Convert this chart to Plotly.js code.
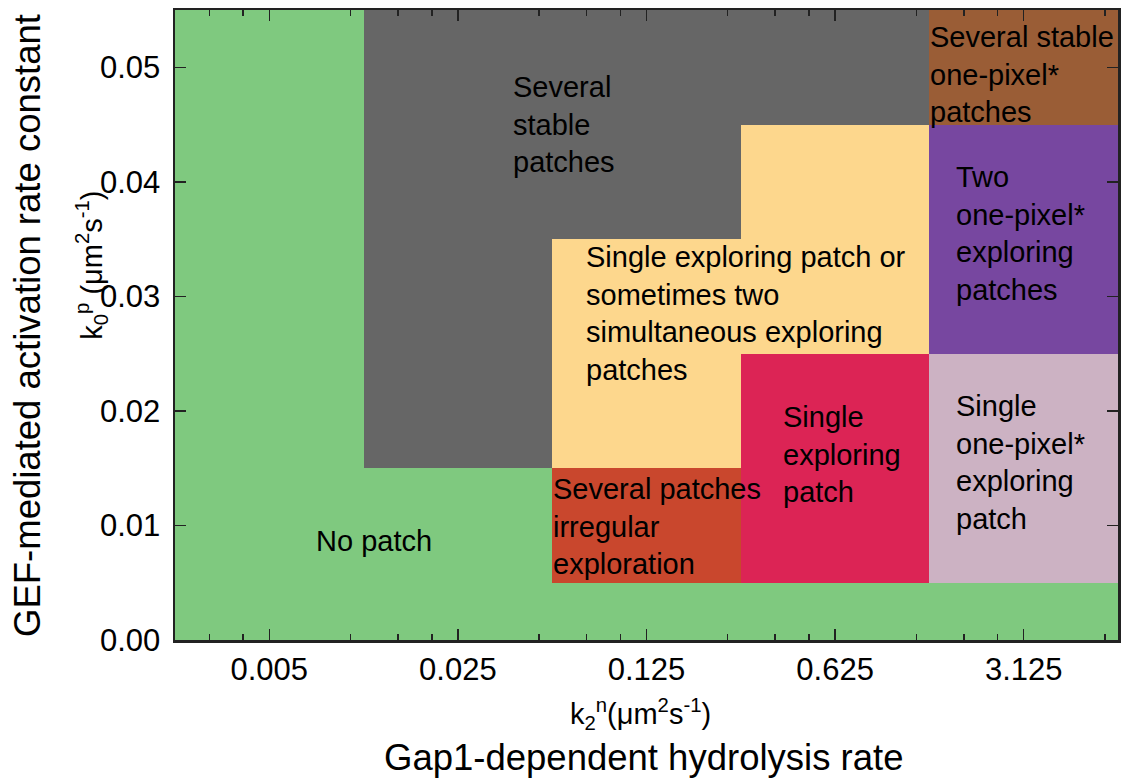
<!DOCTYPE html>
<html>
<head>
<meta charset="utf-8">
<script src="https://cdn.plot.ly/plotly-3.0.1.min.js"></script>
<style>html,body{margin:0;padding:0;background:#fff;}#chart{width:1128px;height:778px;}</style>
</head>
<body>
<div id="chart"></div>
<script>
// ---- data ----
const xTickLabels = ["0.005", "0.025", "0.125", "0.625", "3.125"];   // k2^n values (each x5)
const yValues = [0.00, 0.01, 0.02, 0.03, 0.04, 0.05];                 // k0^p values
const categories = [
  "No patch",
  "Several stable patches",
  "Several patches irregular exploration",
  "Single exploring patch or sometimes two simultaneous exploring patches",
  "Single exploring patch",
  "Several stable one-pixel* patches",
  "Two one-pixel* exploring patches",
  "Single one-pixel* exploring patch"
];
const categoryColors = ["#7fc97f", "#666666", "#c9472d", "#fdd78d", "#dc2455", "#9a5d36", "#7747a0", "#ccb2c3"];
// phase code per row (y) and column (x)
const row000 = [0, 0, 0, 0, 0];
const row001 = [0, 0, 2, 4, 7];
const row002 = [0, 1, 3, 4, 7];
const row003 = [0, 1, 3, 3, 6];
const row004 = [0, 1, 1, 3, 6];
const row005 = [0, 1, 1, 1, 5];
const phaseGrid = [row000, row001, row002, row003, row004, row005];

// label text and their positions (column index, k0^p value)
const labelTexts = [
  "Several<br>stable<br>patches",
  "No patch",
  "Single exploring patch or<br>sometimes two<br>simultaneous exploring<br>patches",
  "Several patches<br>irregular<br>exploration",
  "Single<br>exploring<br>patch",
  "Several stable<br>one-pixel*<br>patches",
  "Two<br>one-pixel*<br>exploring<br>patches",
  "Single<br>one-pixel*<br>exploring<br>patch"
];
const labelX = [1.280, 0.555, 1.668, 1.491, 2.712, 3.494, 3.632, 3.632];
const labelY = [0.0450, 0.0086, 0.0285, 0.0099, 0.0162, 0.0494, 0.0355, 0.0155];
const labelAnchor = ["left", "center", "left", "left", "left", "left", "left", "left"];

// ---- build ----
const xIdx = xTickLabels.map((_, i) => i);
const nC = categoryColors.length;
const colorscale = [];
categoryColors.forEach((c, i) => {
  colorscale.push([i / nC, c]);
  colorscale.push([(i + 1) / nC, c]);
});

const trace = {
  type: "heatmap",
  x: xIdx,
  y: yValues,
  z: phaseGrid,
  zmin: -0.5,
  zmax: nC - 0.5,
  colorscale: colorscale,
  showscale: false,
  hoverinfo: "skip"
};

// minor ticks at 2x, 3x, 4x of each major value (axis is log-base-5 spaced by index)
const minorVals = [];
for (let i = -1; i < xTickLabels.length; i++) {
  [2, 3, 4].forEach(m => {
    const p = i + Math.log(m) / Math.log(5);
    if (p > -0.5 && p < 4.5) minorVals.push(p);
  });
}

const FONT = "Liberation Sans, Arial, sans-serif";
const annotations = labelTexts.map((t, i) => ({
  x: labelX[i], y: labelY[i], xref: "x", yref: "y",
  text: t, showarrow: false, align: "left",
  xanchor: labelAnchor[i], yanchor: "middle",
  font: {family: FONT, size: 29, color: "#000"}
}));

annotations.push(
  {xref: "paper", yref: "paper", x: -0.157, y: 0.5, xanchor: "center", yanchor: "middle",
   text: "GEF-mediated activation rate constant", textangle: -90, showarrow: false,
   font: {family: FONT, size: 36.5, color: "#000"}},
  {xref: "paper", yref: "paper", x: -0.0885, y: 0.595, xanchor: "center", yanchor: "middle",
   text: "k<sub>0</sub><sup>p</sup> (μm<sup>2</sup>s<sup>-1</sup>)", textangle: -90, showarrow: false,
   font: {family: FONT, size: 29, color: "#000"}},
  {xref: "paper", yref: "paper", x: 0.494, y: -0.118, xanchor: "center", yanchor: "middle",
   text: "k<sub>2</sub><sup>n</sup>(μm<sup>2</sup>s<sup>-1</sup>)", showarrow: false,
   font: {family: FONT, size: 29, color: "#000"}},
  {xref: "paper", yref: "paper", x: 0.497, y: -0.187, xanchor: "center", yanchor: "middle",
   text: "Gap1-dependent hydrolysis rate", showarrow: false,
   font: {family: FONT, size: 36.5, color: "#000"}}
);

const layout = {
  width: 1128, height: 778,
  margin: {l: 175, r: 10, t: 10, b: 138, pad: 0},
  paper_bgcolor: "#ffffff",
  plot_bgcolor: "#ffffff",
  showlegend: false,
  font: {family: FONT, size: 31, color: "#000"},
  xaxis: {
    range: [-0.5, 4.5],
    tickmode: "array", tickvals: xIdx, ticktext: xTickLabels,
    ticks: "inside", ticklen: 11, tickwidth: 1.5, tickcolor: "#222",
    showline: true, linecolor: "#222", linewidth: 2.5, mirror: "allticks",
    showgrid: false, zeroline: false,
    tickfont: {family: FONT, size: 31, color: "#000"},
    minor: {tickmode: "array", tickvals: minorVals, ticks: "inside", ticklen: 6, tickwidth: 1.5, tickcolor: "#222", showgrid: false},
    layer: "above traces"
  },
  yaxis: {
    range: [0, 0.055],
    tickmode: "array", tickvals: [0, 0.01, 0.02, 0.03, 0.04, 0.05],
    ticktext: ["0.00", "0.01", "0.02", "0.03", "0.04", "0.05"],
    ticks: "inside", ticklen: 11, tickwidth: 1.5, tickcolor: "#222",
    showline: true, linecolor: "#222", linewidth: 2.5, mirror: "allticks",
    showgrid: false, zeroline: false,
    ticklabelstandoff: 6,
    tickfont: {family: FONT, size: 31, color: "#000"},
    layer: "above traces"
  },
  annotations: annotations
};

Plotly.newPlot("chart", [trace], layout, {displayModeBar: false, staticPlot: true});
</script>
</body>
</html>
